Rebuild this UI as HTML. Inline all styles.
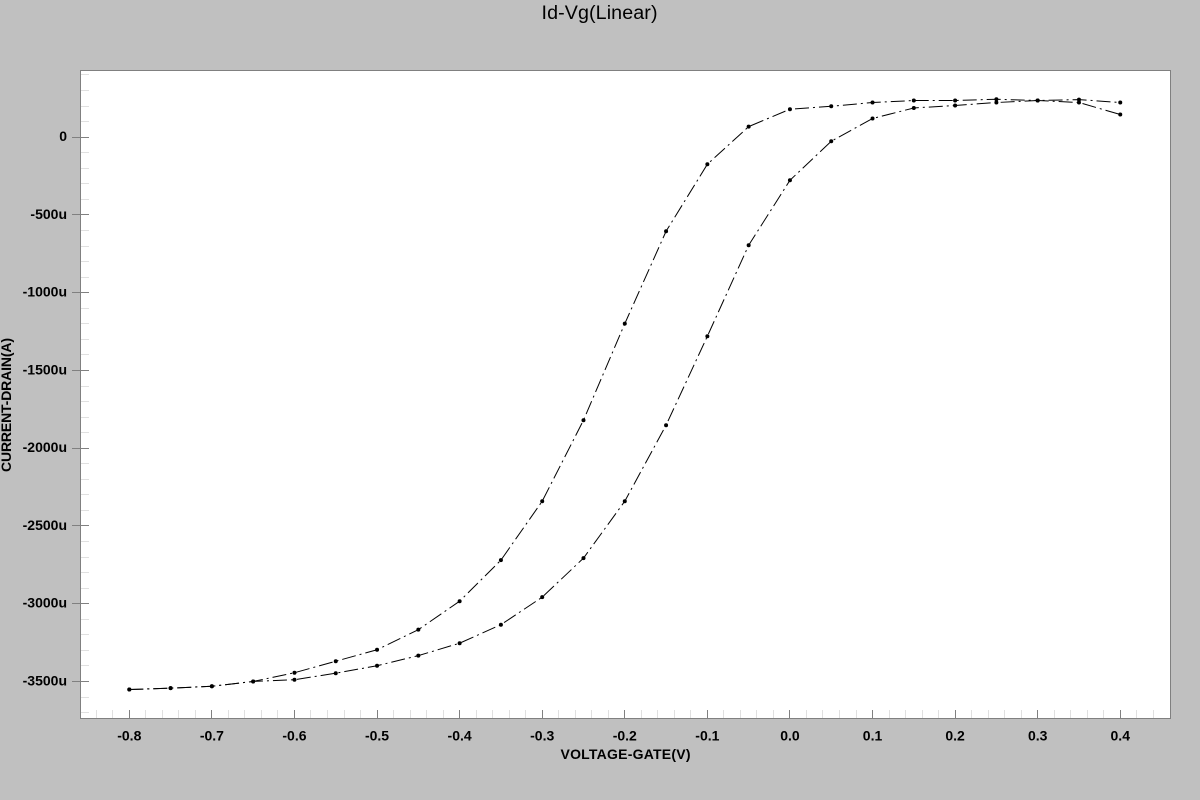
<!DOCTYPE html>
<html>
<head>
<meta charset="utf-8">
<title>Id-Vg(Linear)</title>
<style>
html,body{margin:0;padding:0;background:#c0c0c0;width:1200px;height:800px;overflow:hidden}
svg{display:block;font-family:"Liberation Sans",Arial,sans-serif}
.tick-label{font-size:14px;font-weight:bold;fill:#000}
.axis-title{font-size:14px;font-weight:bold;fill:#000}
</style>
</head>
<body>
<svg id="chart" width="1200" height="800" viewBox="0 0 1200 800" xmlns="http://www.w3.org/2000/svg">
  <rect x="0" y="0" width="1200" height="800" fill="#c0c0c0"/>
  <rect x="80.5" y="70.5" width="1090" height="648" fill="#ffffff" stroke="#808080" stroke-width="1"/>
  <g id="grid-ticks"></g>
  <g id="x-labels"></g>
  <g id="y-labels"></g>
  <g id="series"></g>
  <text x="599.5" y="19" text-anchor="middle" font-size="19.7" textLength="116" lengthAdjust="spacing" fill="#000">Id-Vg(Linear)</text>
  <text class="axis-title" x="625.5" y="759" text-anchor="middle" textLength="130" lengthAdjust="spacing">VOLTAGE-GATE(V)</text>
  <text class="axis-title" transform="translate(11,405) rotate(-90)" text-anchor="middle" textLength="134" lengthAdjust="spacing">CURRENT-DRAIN(A)</text>
</svg>
<script>
var gateVoltage = [-0.8,-0.75,-0.7,-0.65,-0.6,-0.55,-0.5,-0.45,-0.4,-0.35,-0.3,-0.25,-0.2,-0.15,-0.1,-0.05,0,0.05,0.1,0.15,0.2,0.25,0.3,0.35,0.4];
var drainCurrentLeft = [-3552,-3543,-3531,-3500,-3444,-3370,-3296,-3167,-2984,-2720,-2341,-1820,-1199,-605,-174,68,180,199,223,236,236,244,236,223,146];
var drainCurrentRight = [-3552,-3543,-3531,-3500,-3489,-3447,-3399,-3334,-3254,-3135,-2958,-2707,-2341,-1852,-1280,-695,-277,-26,120,188,204,223,236,242,223];
var xTickValues = [-0.8,-0.7,-0.6,-0.5,-0.4,-0.3,-0.2,-0.1,0,0.1,0.2,0.3,0.4];
var xTickLabels = ["-0.8","-0.7","-0.6","-0.5","-0.4","-0.3","-0.2","-0.1","0.0","0.1","0.2","0.3","0.4"];
var yTickValues = [0,-500,-1000,-1500,-2000,-2500,-3000,-3500];
var yTickLabels = ["0","-500u","-1000u","-1500u","-2000u","-2500u","-3000u","-3500u"];

var NS = "http://www.w3.org/2000/svg";
function xScale(v){ return 129.3 + (v + 0.8) * 825.8; }
function yScale(v){ return 137.2 - v * 0.1555; }
function crisp(p){ return Math.floor(p) + 0.5; }

function tickLine(parent, x1, y1, x2, y2, color){
  var l = document.createElementNS(NS, "line");
  l.setAttribute("x1", x1);
  l.setAttribute("y1", y1);
  l.setAttribute("x2", x2);
  l.setAttribute("y2", y2);
  l.setAttribute("stroke", color);
  l.setAttribute("stroke-width", "1");
  parent.appendChild(l);
  return l;
}
function label(parent, x, y, anchor, str){
  var t = document.createElementNS(NS, "text");
  t.setAttribute("x", x);
  t.setAttribute("y", y);
  t.setAttribute("text-anchor", anchor);
  t.setAttribute("class", "tick-label");
  t.textContent = str;
  parent.appendChild(t);
  return t;
}

var ticks = document.getElementById("grid-ticks");
var xLabels = document.getElementById("x-labels");
var yLabels = document.getElementById("y-labels");
var seriesGroup = document.getElementById("series");

// x minor ticks: four between each pair of major ticks
for (var i = -45; i <= 25; i++) {
  if (((i % 5) + 5) % 5 === 0) continue;
  var xp = xScale(i * 0.02);
  if (xp <= 82 || xp >= 1169) continue;
  var xMinor = tickLine(ticks, crisp(xp), 710, crisp(xp), 718, "#e0e0e0");
  
  
}
// y minor ticks: four between each pair of major ticks
for (var m = -40; m <= 5; m++) {
  if (m % 5 === 0) continue;
  var yp = yScale(m * 100);
  if (yp <= 72 || yp >= 717) continue;
  var yMinor = tickLine(ticks, 81, crisp(yp), 89, crisp(yp), "#e0e0e0");
  
  
}
// x major ticks and labels
xTickValues.forEach(function(v, idx){
  var p = xScale(v);
  var tk = tickLine(ticks, crisp(p), 710, crisp(p), 718, "#808080");
  
  
  var lb = label(xLabels, p, 740.5, "middle", xTickLabels[idx]);
  
  
});
// y major ticks and labels
yTickValues.forEach(function(v, idx){
  var p = yScale(v);
  var tk = tickLine(ticks, 72, crisp(p), 89, crisp(p), "#808080");
  
  
  var lb = label(yLabels, 67, p + 4, "end", yTickLabels[idx]);
  
  
});

function drawSeries(values, name){
  var pts = values.map(function(v, idx){
    return xScale(gateVoltage[idx]).toFixed(2) + "," + yScale(v).toFixed(2);
  }).join(" ");
  var line = document.createElementNS(NS, "polyline");
  line.setAttribute("points", pts);
  line.setAttribute("fill", "none");
  line.setAttribute("stroke", "#000");
  line.setAttribute("stroke-width", "1");
  line.setAttribute("stroke-dasharray", "14 4 2 4");
  
  
  seriesGroup.appendChild(line);
  values.forEach(function(v, idx){
    var c = document.createElementNS(NS, "circle");
    c.setAttribute("cx", xScale(gateVoltage[idx]).toFixed(2));
    c.setAttribute("cy", yScale(v).toFixed(2));
    c.setAttribute("r", "2");
    c.setAttribute("fill", "#000");
    
    
    seriesGroup.appendChild(c);
  });
}
drawSeries(drainCurrentLeft, 'left-curve');
drawSeries(drainCurrentRight, 'right-curve');
</script>
</body>
</html>
